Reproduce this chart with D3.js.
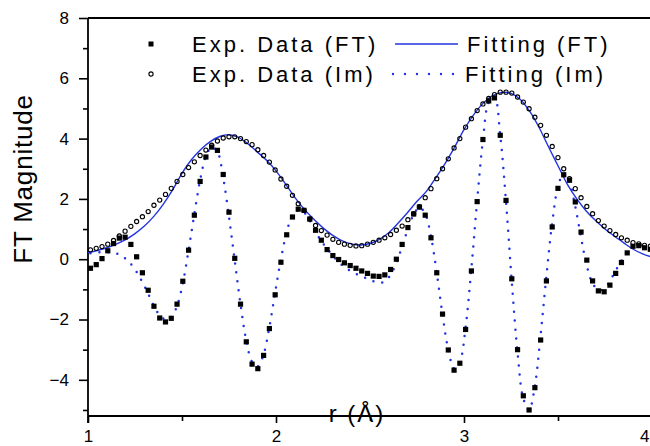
<!DOCTYPE html>
<html>
<head>
<meta charset="utf-8">
<script src="https://d3js.org/d3.v7.min.js"></script>
<style>
  body { margin: 0; background: #fff; }
  svg { display: block; }
</style>
</head>
<body>
<div id="chart"></div>
<script>
// r grid of the experimental points (Angstrom)
var rGrid = [1.0131, 1.0438, 1.0745, 1.1052, 1.1359, 1.1666, 1.1973, 1.2280, 1.2587, 1.2894,
             1.3201, 1.3508, 1.3815, 1.4122, 1.4429, 1.4736, 1.5043, 1.5350, 1.5657, 1.5964,
             1.6271, 1.6578, 1.6885, 1.7192, 1.7499, 1.7806, 1.8113, 1.8420, 1.8727, 1.9034,
             1.9341, 1.9648, 1.9955, 2.0262, 2.0569, 2.0876, 2.1183, 2.1490, 2.1797, 2.2104,
             2.2411, 2.2718, 2.3025, 2.3332, 2.3639, 2.3946, 2.4253, 2.4560, 2.4867, 2.5174,
             2.5481, 2.5788, 2.6095, 2.6402, 2.6709, 2.7016, 2.7323, 2.7630, 2.7937, 2.8244,
             2.8551, 2.8858, 2.9165, 2.9472, 2.9779, 3.0086, 3.0393, 3.0700, 3.1007, 3.1314,
             3.1621, 3.1928, 3.2235, 3.2542, 3.2849, 3.3156, 3.3463, 3.3770, 3.4077, 3.4384,
             3.4691, 3.4998, 3.5305, 3.5612, 3.5919, 3.6226, 3.6533, 3.6840, 3.7147, 3.7454,
             3.7761, 3.8068, 3.8375, 3.8682, 3.8989, 3.9296, 3.9603, 3.9910];

// filled squares - "Exp. Data (FT)"
var expSquares = [-0.30, -0.18, 0.02, 0.28, 0.52, 0.70, 0.73, 0.49, 0.08, -0.45,
                  -1.03, -1.56, -1.95, -2.08, -1.96, -1.49, -0.73, 0.30, 1.46, 2.58,
                  3.39, 3.72, 3.61, 2.81, 1.56, 0.03, -1.49, -2.74, -3.48, -3.63,
                  -3.19, -2.30, -1.18, -0.10, 0.81, 1.40, 1.66, 1.62, 1.33, 0.96,
                  0.63, 0.32, 0.12, -0.01, -0.12, -0.21, -0.30, -0.39, -0.47, -0.56,
                  -0.57, -0.52, -0.34, 0.00, 0.49, 1.05, 1.50, 1.73, 1.46, 0.71,
                  -0.45, -1.82, -3.01, -3.68, -3.45, -2.33, -0.39, 1.91, 3.97, 5.25,
                  5.35, 4.11, 1.95, -0.65, -3.00, -4.53, -5.00, -4.26, -2.68, -0.72,
                  1.07, 2.35, 2.80, 2.62, 1.90, 0.90, -0.03, -0.72, -1.05, -1.08,
                  -0.86, -0.47, -0.11, 0.21, 0.43, 0.45, 0.38, 0.33];

// open circles - "Exp. Data (Im)"
var expCircles = [0.31, 0.36, 0.42, 0.50, 0.62, 0.77, 0.93, 1.09, 1.25, 1.41,
                  1.58, 1.79, 1.96, 2.15, 2.35, 2.58, 2.81, 3.04, 3.23, 3.44,
                  3.62, 3.78, 3.92, 4.02, 4.06, 4.06, 4.00, 3.90, 3.80, 3.63,
                  3.44, 3.22, 2.96, 2.66, 2.42, 2.12, 1.84, 1.62, 1.34, 1.12,
                  0.95, 0.80, 0.66, 0.56, 0.50, 0.46, 0.44, 0.45, 0.50, 0.56,
                  0.63, 0.71, 0.82, 0.96, 1.10, 1.31, 1.51, 1.74, 2.04, 2.34,
                  2.67, 3.00, 3.33, 3.69, 4.00, 4.38, 4.66, 4.93, 5.15, 5.33,
                  5.46, 5.54, 5.54, 5.51, 5.38, 5.21, 4.99, 4.71, 4.44, 4.11,
                  3.74, 3.37, 3.00, 2.67, 2.34, 2.04, 1.75, 1.51, 1.28, 1.10,
                  0.95, 0.82, 0.71, 0.63, 0.55, 0.51, 0.46, 0.43];

// dotted fit - "Fitting (Im)", on rGrid
var fitDotted = [0.20, 0.22, 0.23, 0.23, 0.21, 0.16, 0.03, -0.16, -0.42, -0.76,
                 -1.15, -1.55, -1.86, -2.00, -1.92, -1.55, -0.80, 0.30, 1.50, 2.62,
                 3.40, 3.72, 3.56, 2.70, 1.40, -0.05, -1.50, -2.70, -3.40, -3.55,
                 -3.15, -2.25, -1.10, 0.00, 0.90, 1.45, 1.62, 1.55, 1.28, 0.92,
                 0.60, 0.35, 0.12, -0.10, -0.26, -0.38, -0.48, -0.57, -0.65, -0.73,
                 -0.78, -0.74, -0.52, -0.12, 0.42, 1.00, 1.48, 1.72, 1.50, 0.75,
                 -0.45, -1.85, -3.00, -3.62, -3.40, -2.25, -0.30, 1.95, 3.95, 5.20,
                 5.38, 4.10, 1.90, -0.75, -3.10, -4.62, -5.00, -4.20, -2.50, -0.55,
                 1.20, 2.40, 2.85, 2.55, 1.75, 0.72, -0.22, -0.80, -1.02, -0.98,
                 -0.72, -0.38, -0.05, 0.22, 0.40, 0.46, 0.44, 0.40];

// solid fit - "Fitting (FT)"
var fitR = [1.00, 1.05, 1.10, 1.15, 1.20, 1.25, 1.30, 1.35, 1.40, 1.45,
            1.50, 1.55, 1.60, 1.65, 1.70, 1.75, 1.80, 1.85, 1.90, 1.95,
            2.00, 2.05, 2.10, 2.15, 2.20, 2.25, 2.30, 2.35, 2.40, 2.45,
            2.50, 2.55, 2.60, 2.65, 2.70, 2.75, 2.80, 2.85, 2.90, 2.95,
            3.00, 3.05, 3.10, 3.15, 3.20, 3.25, 3.30, 3.35, 3.40, 3.45,
            3.50, 3.55, 3.60, 3.65, 3.70, 3.75, 3.80, 3.85, 3.90, 3.95, 4.00];
var fitSolid = [0.22, 0.29, 0.38, 0.50, 0.65, 0.85, 1.10, 1.42, 1.82, 2.30,
                2.85, 3.30, 3.64, 3.90, 4.07, 4.13, 4.04, 3.83, 3.56, 3.28,
                2.93, 2.50, 2.05, 1.66, 1.33, 1.04, 0.80, 0.62, 0.51, 0.47,
                0.52, 0.66, 0.88, 1.20, 1.55, 1.92, 2.25, 2.70, 3.18, 3.72,
                4.30, 4.78, 5.16, 5.42, 5.53, 5.50, 5.30, 4.90, 4.36, 3.72,
                3.10, 2.48, 2.00, 1.60, 1.28, 1.00, 0.76, 0.54, 0.33, 0.18, 0.07];

var yMajor = [-4, -2, 0, 2, 4, 6, 8];
var yMinor = [-5, -3, -1, 1, 3, 5, 7];
var xMajor = [1, 2, 3, 4];
var xMinor = [1.5, 2.5, 3.5];

var w = 650;
var h = 446;
var blue = "#2233e0";
var font = "'Liberation Sans', Arial, sans-serif";

var svg = d3.select("#chart")
            .append("svg")
            .attr("width", w)
            .attr("height", h)
            .style("font-family", font);

var x = d3.scaleLinear().domain([1, 4]).range([88, 652]);
var y = d3.scaleLinear().domain([-5.2, 8]).range([416, 18]);

svg.append("clipPath").attr("id", "plotclip")
   .append("rect")
   .attr("x", 88).attr("y", 16)
   .attr("width", w - 88).attr("height", 402);

// axes
function styleAxis(g) {
    g.select(".domain").remove();
    g.selectAll("line").attr("stroke", "#000").attr("stroke-width", 1.6);
    g.selectAll("text").attr("fill", "#000").style("font-size", "17px").style("font-family", font);
}

svg.append("g")
   .attr("transform", "translate(88,0)")
   .call(d3.axisLeft(y).tickValues(yMajor).tickSize(9).tickPadding(10).tickFormat(d3.format("d")))
   .call(styleAxis);

svg.append("g")
   .attr("transform", "translate(88,0)")
   .call(d3.axisLeft(y).tickValues(yMinor).tickSize(5).tickFormat(""))
   .call(styleAxis);

var xAxisG = svg.append("g")
   .attr("transform", "translate(0,416)")
   .call(d3.axisBottom(x).tickValues(xMajor).tickSize(7).tickPadding(7).tickFormat(d3.format("d")))
   .call(styleAxis);

// the last label sits on the right edge, keep it inside the picture
xAxisG.selectAll(".tick text")
      .filter(function(d) { return d === 4; })
      .attr("text-anchor", "end")
      .attr("x", -3);

svg.append("g")
   .attr("transform", "translate(0,416)")
   .call(d3.axisBottom(x).tickValues(xMinor).tickSize(5).tickFormat(""))
   .call(styleAxis);

// frame lines
svg.append("line").attr("x1", 88).attr("x2", 88).attr("y1", 18).attr("y2", 423)
   .attr("stroke", "#000").attr("stroke-width", 1.8);
svg.append("line").attr("x1", 88).attr("x2", w).attr("y1", 416).attr("y2", 416)
   .attr("stroke", "#000").attr("stroke-width", 1.8);
svg.append("line").attr("x1", 88).attr("x2", w).attr("y1", 18).attr("y2", 18)
   .attr("stroke", "#000").attr("stroke-width", 1.8);

var plot = svg.append("g").attr("clip-path", "url(#plotclip)");

// fitted curves
var solidLine = d3.line()
    .x(function(d, i) { return x(fitR[i]); })
    .y(function(d) { return y(d); })
    .curve(d3.curveCatmullRom);

var dottedLine = d3.line()
    .x(function(d, i) { return x(rGrid[i]); })
    .y(function(d) { return y(d); })
    .curve(d3.curveCatmullRom);

plot.append("path")
    .attr("d", solidLine(fitSolid))
    .attr("fill", "none")
    .attr("stroke", blue)
    .attr("stroke-width", 1.4);

plot.append("path")
    .attr("d", dottedLine(fitDotted))
    .attr("fill", "none")
    .attr("stroke", blue)
    .attr("stroke-width", 2.5)
    .attr("stroke-linecap", "round")
    .attr("stroke-dasharray", "0,9");

// experimental points
plot.selectAll("circle.exp")
    .data(expCircles)
    .enter()
    .append("circle")
    .attr("class", "exp")
    .attr("cx", function(d, i) { return x(rGrid[i]); })
    .attr("cy", function(d) { return y(d); })
    .attr("r", 2.1)
    .attr("fill", "none")
    .attr("stroke", "#000")
    .attr("stroke-width", 1.1);

plot.selectAll("rect.exp")
    .data(expSquares)
    .enter()
    .append("rect")
    .attr("class", "exp")
    .attr("x", function(d, i) { return x(rGrid[i]) - 2.6; })
    .attr("y", function(d) { return y(d) - 2.6; })
    .attr("width", 5.2)
    .attr("height", 5.2)
    .attr("fill", "#000");

// legend
var legend = svg.append("g").style("font-size", "22px").style("letter-spacing", "3px");

legend.append("rect").attr("x", 148.5).attr("y", 41.5).attr("width", 5).attr("height", 5).attr("fill", "#000");
legend.append("circle").attr("cx", 151).attr("cy", 74).attr("r", 2.1)
      .attr("fill", "none").attr("stroke", "#000").attr("stroke-width", 1.1);
legend.append("line").attr("x1", 395).attr("x2", 458).attr("y1", 44).attr("y2", 44)
      .attr("stroke", blue).attr("stroke-width", 1.6);
legend.append("line").attr("x1", 393).attr("x2", 455).attr("y1", 74).attr("y2", 74)
      .attr("stroke", blue).attr("stroke-width", 2.4)
      .attr("stroke-linecap", "round").attr("stroke-dasharray", "0,12");

legend.append("text").attr("x", 192).attr("y", 52).text("Exp. Data (FT)");
legend.append("text").attr("x", 192).attr("y", 82).text("Exp. Data (Im)");
legend.append("text").attr("x", 467).attr("y", 52).text("Fitting (FT)");
legend.append("text").attr("x", 465).attr("y", 82).text("Fitting (Im)");

// axis titles
svg.append("text")
   .attr("x", 357)
   .attr("y", 422)
   .attr("text-anchor", "middle")
   .style("font-size", "24px")
   .style("letter-spacing", "2px")
   .text("r (Å)");

svg.append("text")
   .attr("transform", "translate(32,179) rotate(-90)")
   .attr("text-anchor", "middle")
   .style("font-size", "26px")
   .style("letter-spacing", "0.8px")
   .text("FT Magnitude");
</script>
</body>
</html>
